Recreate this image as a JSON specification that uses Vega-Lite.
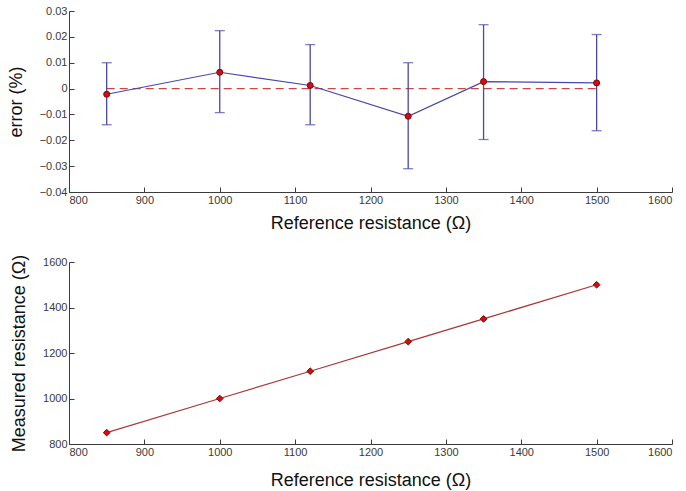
{
  "$schema": "https://vega.github.io/schema/vega-lite/v6.json",
  "background": "white",
  "padding": {"left": 7, "top": 5, "right": 8, "bottom": 4},
  "spacing": 70,
  "bounds": "flush",
  "config": {
    "view": {"stroke": null},
    "font": "Liberation Sans",
    "axis": {
      "grid": false,
      "domainColor": "#3c3c3c",
      "tickColor": "#3c3c3c",
      "tickSize": -5,
      "labelColor": "#3a3a3a",
      "labelFontSize": 11,
      "labelOverlap": false,
      "labelFont": "Liberation Sans",
      "titleFont": "Liberation Sans",
      "titleFontSize": 18,
      "titleFontWeight": "normal",
      "titleColor": "#111111"
    },
    "axisX": {"labelPadding": 7},
    "axisY": {"labelPadding": 7}
  },
  "datasets": {
    "err": [
      {"ref": 850, "err": -0.0022, "lo": -0.014, "hi": 0.010},
      {"ref": 1000, "err": 0.0063, "lo": -0.0093, "hi": 0.0224},
      {"ref": 1120, "err": 0.0012, "lo": -0.014, "hi": 0.017},
      {"ref": 1250, "err": -0.0107, "lo": -0.031, "hi": 0.010},
      {"ref": 1350, "err": 0.0027, "lo": -0.0197, "hi": 0.0247},
      {"ref": 1500, "err": 0.0022, "lo": -0.0163, "hi": 0.0209}
    ],
    "zero": [
      {"ref": 850, "z": 0},
      {"ref": 1500, "z": 0}
    ],
    "meas": [
      {"ref": 850, "meas": 850},
      {"ref": 1000, "meas": 1000},
      {"ref": 1120, "meas": 1120},
      {"ref": 1250, "meas": 1250},
      {"ref": 1350, "meas": 1350},
      {"ref": 1500, "meas": 1500}
    ]
  },
  "vconcat": [
    {
      "width": 603,
      "height": 181,
      "layer": [
        {
          "data": {"name": "zero"},
          "mark": {"type": "line", "color": "#c84848", "strokeWidth": 1.2, "strokeDash": [8, 5]},
          "encoding": {
            "x": {"field": "ref", "type": "quantitative", "title": "Reference resistance (Ω)",
                  "scale": {"domain": [800, 1600], "nice": false},
                  "axis": {"values": [800, 900, 1000, 1100, 1200, 1300, 1400, 1500, 1600], "tickCount": 12, "format": "d", "titlePadding": 9}},
            "y": {"field": "z", "type": "quantitative", "title": "error (%)",
                  "scale": {"domain": [-0.04, 0.03], "nice": false},
                  "axis": {"values": [-0.04, -0.03, -0.02, -0.01, 0, 0.01, 0.02, 0.03], "tickCount": 10, "format": "~g", "titlePadding": 14}}
          }
        },
        {
          "data": {"name": "err"},
          "mark": {"type": "rule", "color": "#4848a8", "strokeWidth": 1.3},
          "encoding": {
            "x": {"field": "ref", "type": "quantitative"},
            "y": {"field": "lo", "type": "quantitative"},
            "y2": {"field": "hi"}
          }
        },
        {
          "data": {"name": "err"},
          "mark": {"type": "tick", "orient": "horizontal", "color": "#4848a8", "size": 10, "thickness": 1.3},
          "encoding": {
            "x": {"field": "ref", "type": "quantitative"},
            "y": {"field": "lo", "type": "quantitative"}
          }
        },
        {
          "data": {"name": "err"},
          "mark": {"type": "tick", "orient": "horizontal", "color": "#4848a8", "size": 10, "thickness": 1.3},
          "encoding": {
            "x": {"field": "ref", "type": "quantitative"},
            "y": {"field": "hi", "type": "quantitative"}
          }
        },
        {
          "data": {"name": "err"},
          "mark": {"type": "line", "color": "#4848a8", "strokeWidth": 1.2},
          "encoding": {
            "x": {"field": "ref", "type": "quantitative"},
            "y": {"field": "err", "type": "quantitative"}
          }
        },
        {
          "data": {"name": "err"},
          "mark": {"type": "point", "shape": "circle", "filled": true, "fill": "#cc1010", "stroke": "#8a0000", "strokeWidth": 1, "size": 36, "opacity": 1},
          "encoding": {
            "x": {"field": "ref", "type": "quantitative"},
            "y": {"field": "err", "type": "quantitative"}
          }
        }
      ]
    },
    {
      "width": 603,
      "height": 182,
      "data": {"name": "meas"},
      "layer": [
        {
          "mark": {"type": "line", "color": "#a83838", "strokeWidth": 1.2},
          "encoding": {
            "x": {"field": "ref", "type": "quantitative", "title": "Reference resistance (Ω)",
                  "scale": {"domain": [800, 1600], "nice": false},
                  "axis": {"values": [800, 900, 1000, 1100, 1200, 1300, 1400, 1500, 1600], "tickCount": 12, "format": "d", "titlePadding": 14}},
            "y": {"field": "meas", "type": "quantitative", "title": "Measured resistance (Ω)",
                  "scale": {"domain": [800, 1600], "nice": false, "zero": false},
                  "axis": {"values": [800, 1000, 1200, 1400, 1600], "tickCount": 8, "format": "d", "titlePadding": 14}}
          }
        },
        {
          "mark": {"type": "point", "shape": "diamond", "filled": true, "fill": "#cc1010", "stroke": "#8a0000", "strokeWidth": 1, "size": 45, "opacity": 1},
          "encoding": {
            "x": {"field": "ref", "type": "quantitative"},
            "y": {"field": "meas", "type": "quantitative"}
          }
        }
      ]
    }
  ]
}
